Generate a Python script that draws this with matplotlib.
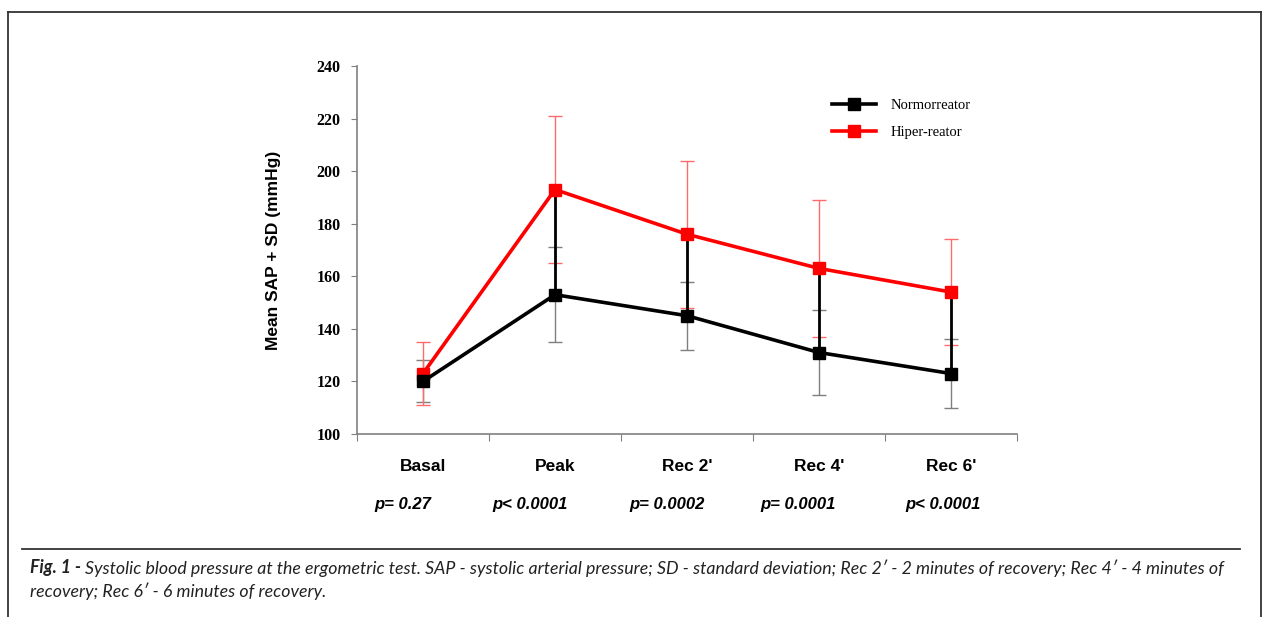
import numpy as np
import matplotlib
matplotlib.use("Agg")
import matplotlib.pyplot as plt
import matplotlib.transforms as mtransforms
from matplotlib.lines import Line2D

# data
categories = ["Basal", "Peak", "Rec 2'", "Rec 4'", "Rec 6'"]
normo_mean = [120, 153, 145, 131, 123]
normo_sd = [8, 18, 13, 16, 13]
hiper_mean = [123, 193, 176, 163, 154]
hiper_sd = [12, 28, 28, 26, 20]
p_values = ["p= 0.27", "p< 0.0001", "p= 0.0002", "p= 0.0001", "p< 0.0001"]
y_ticks = [100, 120, 140, 160, 180, 200, 220, 240]

caption_bold = "Fig. 1 - "
caption_1 = ("Systolic blood pressure at the ergometric test. SAP - systolic arterial pressure; "
             "SD - standard deviation; Rec 2\u2032 - 2 minutes of recovery; Rec 4\u2032 - 4 minutes of")
caption_2 = "recovery; Rec 6\u2032 - 6 minutes of recovery."

W, H = 1268, 617
fig = plt.figure(figsize=(W / 100, H / 100), dpi=100)
ax = fig.add_axes([357 / W, 1 - 434 / H, 660 / W, 368 / H])

x = np.arange(len(categories))

# high-low lines between the two series
ax.vlines(x, normo_mean, hiper_mean, color="black", lw=2, zorder=2)

# error bars (thin, lighter)
ax.errorbar(x, normo_mean, yerr=normo_sd, fmt="none", ecolor="#7f7f7f",
            elinewidth=1, capsize=5, capthick=1, zorder=1)
ax.errorbar(x, hiper_mean, yerr=hiper_sd, fmt="none", ecolor="#ff6b6b",
            elinewidth=1, capsize=5, capthick=1, zorder=1)

ax.plot(x, hiper_mean, color="#ff0000", lw=2.6, marker="s", ms=8,
        label="Hiper-reator", zorder=3)
ax.plot(x, normo_mean, color="black", lw=2.6, marker="s", ms=8,
        label="Normorreator", zorder=4)

ax.set_xlim(-0.5, len(categories) - 0.5)
ax.set_ylim(100, 240)
ax.set_yticks(y_ticks)
ax.set_yticklabels([str(v) for v in y_ticks], family="Liberation Serif",
                   fontweight="bold", fontsize=11.5)

# x ticks at category boundaries, labels at centres
ax.set_xticks(np.arange(len(categories) + 1) - 0.5)
ax.set_xticklabels([])
ax.set_xticks(x, minor=True)
ax.set_xticklabels(categories, minor=True, family="Liberation Sans",
                   fontweight="bold", fontsize=12.5)
ax.tick_params(axis="x", which="minor", length=0, pad=18)
ax.tick_params(axis="x", which="major", length=5, color="#808080", direction="out")
ax.tick_params(axis="y", length=4, color="#808080", direction="out", pad=8)

for s in ["top", "right"]:
    ax.spines[s].set_visible(False)
for s in ["left", "bottom"]:
    ax.spines[s].set_color("#808080")
    ax.spines[s].set_linewidth(1.2)

ax.set_ylabel("Mean SAP + SD (mmHg)", family="Liberation Sans",
              fontweight="bold", fontsize=12.5, labelpad=25)

# p-values under each category (x in data, y in figure)
p_shift = [-0.15, -0.19, -0.15, -0.16, -0.06]
trans = mtransforms.blended_transform_factory(ax.transData, fig.transFigure)
for i, p in enumerate(p_values):
    ax.text(i + p_shift[i], 1 - 505 / H, p, transform=trans, ha="center", va="center",
            family="Liberation Sans", fontweight="bold", style="italic",
            fontsize=12, clip_on=False)

# legend
handles, labels = ax.get_legend_handles_labels()
ax.legend(handles[::-1], labels[::-1], loc="upper left",
          bbox_to_anchor=(475 / 660, 1 - 33 / 368), frameon=False,
          prop={"family": "Liberation Serif", "size": 10.5},
          handlelength=3.0, labelspacing=0.95, handletextpad=1.0,
          borderaxespad=0, borderpad=0)

# page frame and caption rule
frame = dict(color="#333333", lw=1.3, transform=fig.transFigure)
fig.add_artist(Line2D([8 / W, 8 / W], [0, 1 - 12 / H], **frame))
fig.add_artist(Line2D([8 / W, 1261 / W], [1 - 12 / H, 1 - 12 / H], **frame))
fig.add_artist(Line2D([1261 / W, 1261 / W], [0, 1 - 12 / H], **frame))
fig.add_artist(Line2D([22 / W, 1240 / W], [1 - 549 / H, 1 - 549 / H], **frame))

cap = dict(family="Lato", fontsize=12.75, color="#222222")
t1 = fig.text(30 / W, 1 - 568 / H, caption_bold, fontweight="bold", style="italic",
              va="center", **cap)
ax.annotate(caption_1, xy=(1, 0.5), xycoords=t1, va="center", ha="left",
            style="italic", annotation_clip=False, **cap)
fig.text(30 / W, 1 - 591 / H, caption_2, style="italic", va="center", **cap)

fig.savefig("out.png", dpi=100)
